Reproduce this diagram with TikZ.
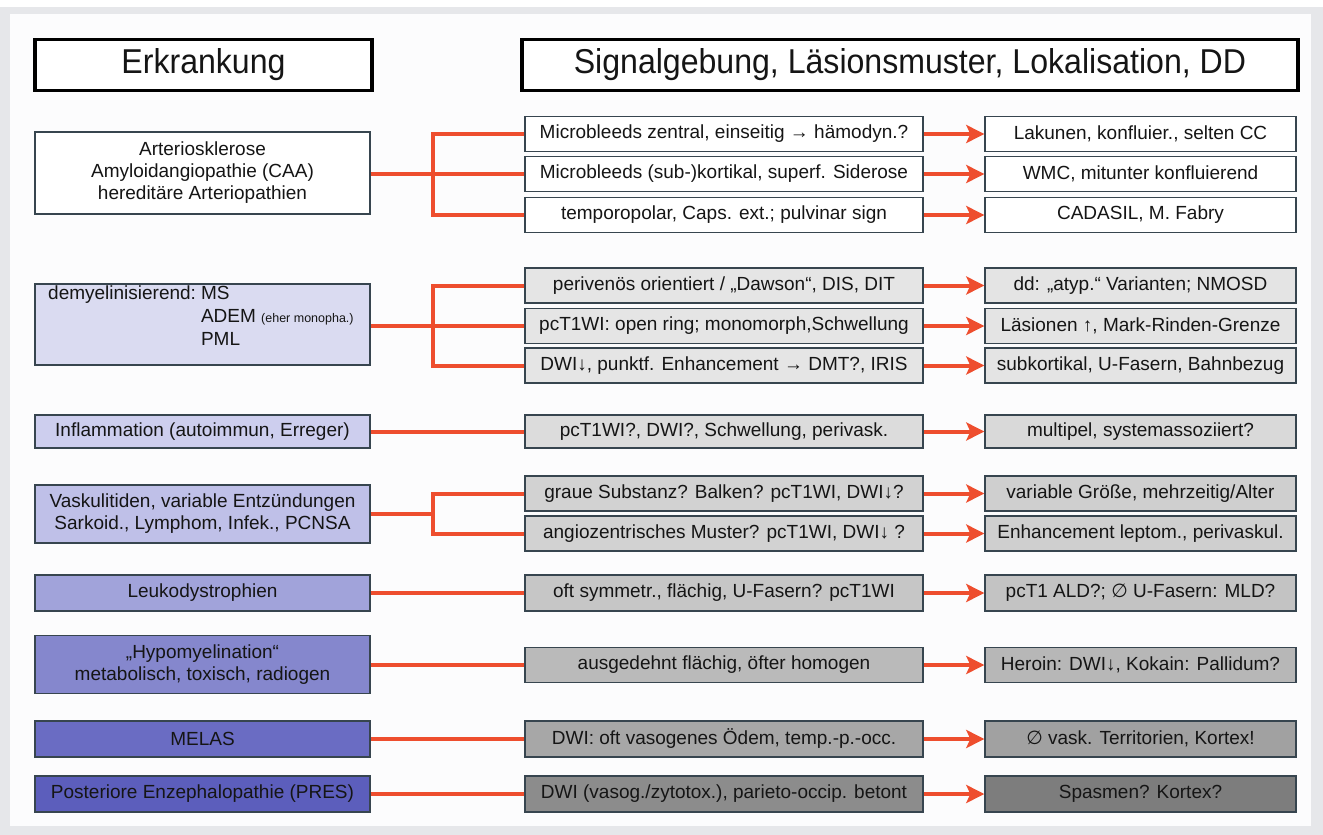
\documentclass[tikz,border=0pt]{standalone}
\usepackage{fontspec}
\setmainfont{Liberation Sans}
\newfontfamily\hdrfont{Liberation Sans}[FakeStretch=0.93]
\newfontfamily\symfont{DejaVu Sans}
\usetikzlibrary{arrows.meta}
\definecolor{edgec}{HTML}{37454F}
\definecolor{textc}{HTML}{151515}
\definecolor{connc}{HTML}{EE4E2E}
\definecolor{framec}{HTML}{E6E7EA}
\definecolor{innerc}{HTML}{FCFCFD}
\definecolor{lB}{HTML}{DADBF1}
\definecolor{lC}{HTML}{CDCEEE}
\definecolor{lD}{HTML}{BFC0E8}
\definecolor{lE}{HTML}{A1A3DA}
\definecolor{lF}{HTML}{8587CD}
\definecolor{lG}{HTML}{6A6CC3}
\definecolor{lH}{HTML}{5C5EBC}
\definecolor{mB}{HTML}{E5E5E5}
\definecolor{mC}{HTML}{DCDCDC}
\definecolor{mD}{HTML}{D2D2D2}
\definecolor{mE}{HTML}{C6C6C6}
\definecolor{mF}{HTML}{BABABA}
\definecolor{mG}{HTML}{A7A7A7}
\definecolor{mH}{HTML}{8C8C8C}
\definecolor{rB}{HTML}{E4E4E4}
\definecolor{rC}{HTML}{D9D9D9}
\definecolor{rD}{HTML}{CFCFCF}
\definecolor{rE}{HTML}{C3C3C3}
\definecolor{rF}{HTML}{B7B7B7}
\definecolor{rG}{HTML}{A1A1A1}
\definecolor{rH}{HTML}{7D7D7D}
\begin{document}
\begin{tikzpicture}[x=1pt,y=-1pt,
  bx/.style={draw=edgec, line width=1.4pt, inner sep=0pt, minimum height=35pt, align=center, text=textc, font=\fontsize{19}{22}\selectfont},
  lbox/.style={bx, minimum width=335pt},
  mbox/.style={bx, minimum width=398pt},
  rbox/.style={bx, minimum width=311pt},
  hdr/.style={draw=black, line width=3.5pt, fill=white, inner sep=0pt, minimum height=51pt, text=textc, font=\hdrfont\fontsize{34.5}{38}\selectfont},
  conn/.style={draw=connc, line width=4pt},
  arr/.style={conn, -{Stealth[length=18pt,width=18pt,inset=4pt]}},
  txt/.style={inner sep=0pt, text=textc, font=\fontsize{19}{23}\selectfont}
]
\useasboundingbox (0,0) rectangle (1323,835);
\fill[white] (0,0) rectangle (1323,835);
\fill[framec] (0,7) rectangle (1323,835);
\fill[innerc] (10,14) rectangle (1311,826);

% headers
\node[hdr, minimum width=337pt] (h1) at (203.5,65) {Erkrankung};
\node[hdr, minimum width=776pt] (h2) at (910,65) {Signalgebung, Läsionsmuster, Lokalisation, DD};

% Row A
\node[lbox, fill=white, minimum height=82pt] (lA) at (202.5,173) {Arteriosklerose\\Amyloidangiopathie (CAA)\\hereditäre Arteriopathien};
\node[mbox, fill=white] (mA1) at (724,134) {Microbleeds zentral, einseitig → hämodyn.?};
\node[mbox, fill=white] (mA2) at (724,174) {Microbleeds (sub-)kortikal, superf. Siderose};
\node[mbox, fill=white] (mA3) at (724,215) {temporopolar, Caps. ext.; pulvinar sign};
\node[rbox, fill=white] (rA1) at (1140.5,134) {Lakunen, konfluier., selten CC};
\node[rbox, fill=white] (rA2) at (1140.5,174) {WMC, mitunter konfluierend};
\node[rbox, fill=white] (rA3) at (1140.5,215) {CADASIL, M. Fabry};
\coordinate (bxA) at (433,174);

% Row B
\node[lbox, fill=lB, minimum height=81pt] (lB) at (202.5,324.5) {};
\node[txt, anchor=west] (lBt) at (48,318) {\begin{tabular}{@{}l@{\hspace{5pt}}l@{}}demyelinisierend: & MS\\ & ADEM {\fontsize{12.5}{14}\selectfont (eher monopha.)}\\ & PML\end{tabular}};
\node[mbox, fill=mB] (mB1) at (724,285.5) {perivenös orientiert / „Dawson“, DIS, DIT};
\node[mbox, fill=mB] (mB2) at (724,326) {pcT1WI: open ring; monomorph,Schwellung};
\node[mbox, fill=mB] (mB3) at (724,365.5) {DWI↓, punktf. Enhancement → DMT?, IRIS};
\node[rbox, fill=rB] (rB1) at (1140.5,285.5) {dd: „atyp.“ Varianten; NMOSD};
\node[rbox, fill=rB] (rB2) at (1140.5,326) {Läsionen ↑, Mark-Rinden-Grenze};
\node[rbox, fill=rB] (rB3) at (1140.5,365.5) {subkortikal, U-Fasern, Bahnbezug};
\coordinate (bxB) at (433,326);

% Row C
\node[lbox, fill=lC, minimum height=33pt] (lC) at (202.5,431.5) {Inflammation (autoimmun, Erreger)};
\node[mbox, fill=mC, minimum height=33pt] (mC) at (724,431.5) {pcT1WI?, DWI?, Schwellung, perivask.};
\node[rbox, fill=rC, minimum height=33pt] (rC) at (1140.5,431.5) {multipel, systemassoziiert?};

% Row D
\node[lbox, fill=lD, minimum height=58pt] (lD) at (202.5,514) {Vaskulitiden, variable Entzündungen\\Sarkoid., Lymphom, Infek., PCNSA};
\node[mbox, fill=mD] (mD1) at (724,493.5) {graue Substanz? Balken? pcT1WI, DWI↓?};
\node[mbox, fill=mD] (mD2) at (724,533.5) {angiozentrisches Muster? pcT1WI, DWI↓ ?};
\node[rbox, fill=rD] (rD1) at (1140.5,493.5) {variable Größe, mehrzeitig/Alter};
\node[rbox, fill=rD] (rD2) at (1140.5,533.5) {Enhancement leptom., perivaskul.};
\coordinate (bxD) at (433,513.5);

% Row E
\node[lbox, fill=lE, minimum height=36pt] (lE) at (202.5,593) {Leukodystrophien};
\node[mbox, fill=mE, minimum height=36pt] (mE) at (724,593) {oft symmetr., flächig, U-Fasern? pcT1WI};
\node[rbox, fill=rE, minimum height=36pt] (rE) at (1140.5,593) {pcT1 ALD?; {\symfont ∅} U-Fasern: MLD?};

% Row F
\node[lbox, fill=lF, minimum height=58pt] (lF) at (202.5,664.5) {„Hypomyelination“\\metabolisch, toxisch, radiogen};
\node[mbox, fill=mF] (mF) at (724,665) {ausgedehnt flächig, öfter homogen};
\node[rbox, fill=rF] (rF) at (1140.5,665) {Heroin: DWI↓, Kokain: Pallidum?};

% Row G
\node[lbox, fill=lG, minimum height=36pt] (lG) at (202.5,739) {MELAS};
\node[mbox, fill=mG, minimum height=36pt] (mG) at (724,739) {DWI: oft vasogenes Ödem, temp.-p.-occ.};
\node[rbox, fill=rG, minimum height=36pt] (rG) at (1140.5,739) {{\symfont ∅} vask. Territorien, Kortex!};

% Row H
\node[lbox, fill=lH, minimum height=36pt] (lH) at (202.5,794) {Posteriore Enzephalopathie (PRES)};
\node[mbox, fill=mH, minimum height=36pt] (mH) at (724,794) {DWI (vasog./zytotox.), parieto-occip. betont};
\node[rbox, fill=rH, minimum height=36pt] (rH) at (1140.5,794) {Spasmen? Kortex?};

% connectors left -> middle
\draw[conn] (lA.east |- mA2.west) -- (mA2.west);
\draw[conn] (mA1.west) -- (mA1.west -| bxA) -- (mA3.west -| bxA) -- (mA3.west);
\draw[conn] (lB.east |- mB2.west) -- (mB2.west);
\draw[conn] (mB1.west) -- (mB1.west -| bxB) -- (mB3.west -| bxB) -- (mB3.west);
\draw[conn] (lC.east) -- (mC.west);
\draw[conn] (lD.east |- bxD) -- (bxD);
\draw[conn] (mD1.west) -- (mD1.west -| bxD) -- (mD2.west -| bxD) -- (mD2.west);
\draw[conn] (lE.east) -- (mE.west);
\draw[conn] (lF.east |- mF.west) -- (mF.west);
\draw[conn] (lG.east) -- (mG.west);
\draw[conn] (lH.east) -- (mH.west);

% arrows middle -> right
\foreach \a in {A1,A2,A3,B1,B2,B3,C,D1,D2,E,F,G,H}{
  \draw[arr] (m\a.east) -- (r\a.west);
}
\end{tikzpicture}
\end{document}
